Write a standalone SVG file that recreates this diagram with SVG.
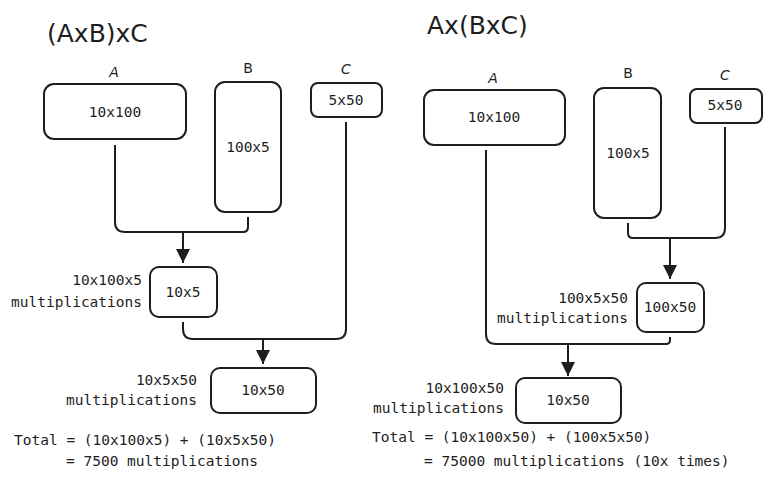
<svg xmlns="http://www.w3.org/2000/svg" width="771" height="481" viewBox="0 0 771 481">
<style>
.bg{fill:#ffffff}
.box{fill:none;stroke:#1e1e1e;stroke-width:2}
.wire{fill:none;stroke:#1e1e1e;stroke-width:2;stroke-linejoin:round}
.t{font-family:"DejaVu Sans Mono","Liberation Mono",monospace;font-size:14.5px;fill:#1e1e1e}
.c{text-anchor:middle;dominant-baseline:central}
.r{text-anchor:end}
.lbl{font-family:"DejaVu Sans","Liberation Sans",sans-serif;font-size:14px;fill:#1e1e1e;text-anchor:middle}
.it{font-style:italic}
.title{font-family:"DejaVu Sans","Liberation Sans",sans-serif;font-size:25px;fill:#1e1e1e}
</style>
<defs>
<marker id="ah" viewBox="0 0 14 16" refX="14" refY="8" markerWidth="14" markerHeight="16" markerUnits="userSpaceOnUse" orient="auto">
<path d="M0,1 L14,8 L0,15 Z" fill="#1e1e1e"/>
</marker>
</defs>
<rect class="bg" x="0" y="0" width="771" height="481"/>

<text class="title" x="47" y="42">(AxB)xC</text>
<text class="title" x="427" y="34">Ax(BxC)</text>

<g id="connectors">
<path class="wire" d="M115,145 V222 Q115,232 125,232 H243 Q248,232 248,227 V217"/>
<path class="wire" d="M183,232 V263" marker-end="url(#ah)"/>
<path class="wire" d="M346,122 V329 Q346,339 336,339 H193 Q183,339 183,329 V322"/>
<path class="wire" d="M263,339 V364" marker-end="url(#ah)"/>
<path class="wire" d="M628,223 V233 Q628,238 633,238 H715 Q725,238 725,228 V127"/>
<path class="wire" d="M670,238 V279" marker-end="url(#ah)"/>
<path class="wire" d="M486,150 V334 Q486,344 496,344 H666 Q670,344 670,340 V337"/>
<path class="wire" d="M568,344 V376" marker-end="url(#ah)"/>
</g>

<g id="L_A">
<text class="lbl it" x="114" y="77">A</text>
<rect class="box" x="44" y="84" width="142" height="55" rx="10"/>
<text class="t c" x="115" y="112">10x100</text>
</g>
<g id="L_B">
<text class="lbl" x="248" y="73">B</text>
<rect class="box" x="215" y="82" width="66" height="130" rx="10"/>
<text class="t c" x="248" y="147">100x5</text>
</g>
<g id="L_C">
<text class="lbl it" x="346" y="74">C</text>
<rect class="box" x="311" y="83" width="71" height="34" rx="7"/>
<text class="t c" x="346" y="100">5x50</text>
</g>
<g id="L_AB">
<rect class="box" x="150" y="267" width="67" height="50" rx="9"/>
<text class="t c" x="183" y="292">10x5</text>
<text class="t r" x="142" y="285">10x100x5</text>
<text class="t r" x="142" y="307">multiplications</text>
</g>
<g id="L_ABC">
<rect class="box" x="211" y="368" width="105" height="45" rx="9"/>
<text class="t c" x="263" y="390">10x50</text>
<text class="t r" x="197" y="385">10x5x50</text>
<text class="t r" x="197" y="405">multiplications</text>
</g>
<g id="L_total">
<text class="t" x="14" y="445">Total = (10x100x5) + (10x5x50)</text>
<text class="t" x="66" y="466">= 7500 multiplications</text>
</g>

<g id="R_A">
<text class="lbl it" x="493" y="83">A</text>
<rect class="box" x="424" y="90" width="141" height="55" rx="10"/>
<text class="t c" x="494" y="117">10x100</text>
</g>
<g id="R_B">
<text class="lbl" x="628" y="78">B</text>
<rect class="box" x="594" y="88" width="67" height="130" rx="10"/>
<text class="t c" x="628" y="153">100x5</text>
</g>
<g id="R_C">
<text class="lbl it" x="725" y="80">C</text>
<rect class="box" x="690" y="89" width="72" height="34" rx="7"/>
<text class="t c" x="725" y="105">5x50</text>
</g>
<g id="R_BC">
<rect class="box" x="637" y="283" width="67" height="49" rx="9"/>
<text class="t c" x="670" y="307">100x50</text>
<text class="t r" x="628" y="303">100x5x50</text>
<text class="t r" x="628" y="323">multiplications</text>
</g>
<g id="R_ABC">
<rect class="box" x="516" y="378" width="105" height="45" rx="9"/>
<text class="t c" x="568" y="400">10x50</text>
<text class="t r" x="504" y="393">10x100x50</text>
<text class="t r" x="504" y="413">multiplications</text>
</g>
<g id="R_total">
<text class="t" x="372" y="442">Total = (10x100x50) + (100x5x50)</text>
<text class="t" x="424" y="466">= 75000 multiplications (10x times)</text>
</g>
</svg>
